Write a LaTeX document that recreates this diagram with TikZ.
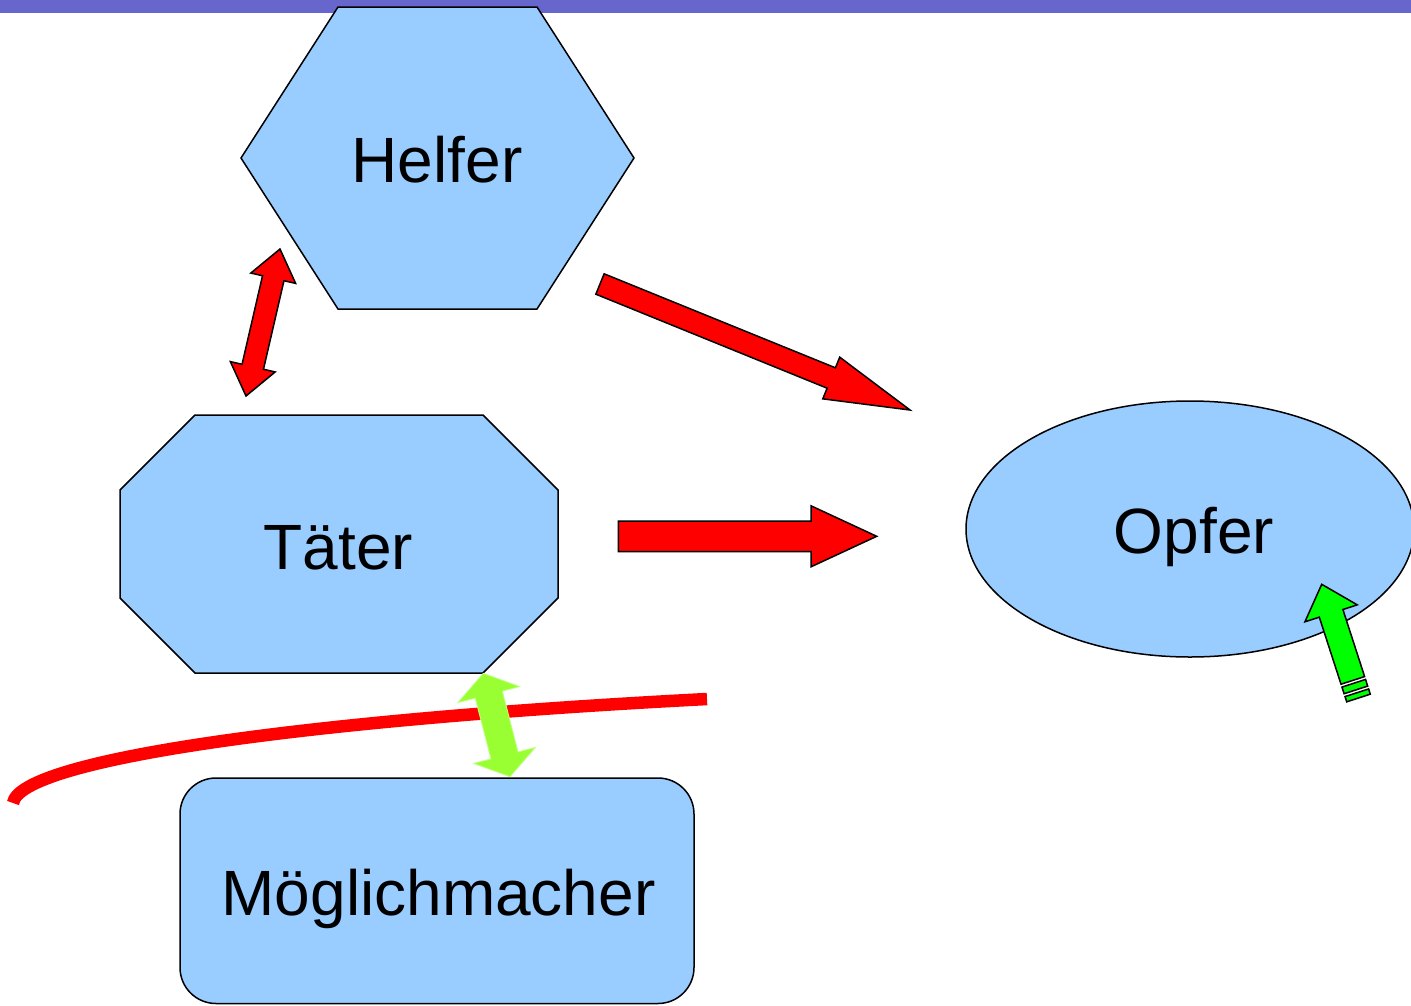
\documentclass[tikz,border=0pt]{standalone}
\usepackage{fontspec}
\setmainfont{Liberation Sans}
\usetikzlibrary{calc,shapes.geometric}
\definecolor{barblue}{RGB}{102,102,204}
\definecolor{shapeblue}{RGB}{153,204,255}
\definecolor{arrred}{RGB}{255,0,0}
\definecolor{lightgreen}{RGB}{153,255,51}
\definecolor{brightgreen}{RGB}{0,255,0}
\tikzset{
  shapebox/.style={draw=black, fill=shapeblue, line width=1.5pt, line join=miter},
  redarrow/.style={draw=black, fill=arrred, line width=1.5pt, line join=miter},
  greenarrow/.style={draw=black, fill=brightgreen, line width=1.5pt, line join=miter},
  softarrow/.style={fill=lightgreen, draw=lightgreen!60!white, line width=0.8pt},
  lbl/.style={font=\fontsize{64}{77}\selectfont, inner sep=0pt, text=black},
}
% style, tail, tip, half shaft, half head, head length
\newcommand\BlockArrow[6]{%
  \coordinate (ba-h) at ($(#3)!#6!(#2)$);
  \path[#1] ($(#2)!#4!90:(#3)$) -- ($(ba-h)!#4!90:(#3)$) -- ($(ba-h)!#5!90:(#3)$) -- (#3)
    -- ($(ba-h)!#5!-90:(#3)$) -- ($(ba-h)!#4!-90:(#3)$) -- ($(#2)!#4!-90:(#3)$) -- cycle;}
% style, end A, end B, half shaft, half head, head length
\newcommand\DblBlockArrow[6]{%
  \coordinate (da-a) at ($(#2)!#6!(#3)$);
  \coordinate (da-b) at ($(#3)!#6!(#2)$);
  \path[#1] (#2) -- ($(da-a)!#5!90:(#3)$) -- ($(da-a)!#4!90:(#3)$) -- ($(da-b)!#4!90:(#3)$)
    -- ($(da-b)!#5!90:(#3)$) -- (#3) -- ($(da-b)!#5!-90:(#3)$) -- ($(da-b)!#4!-90:(#3)$)
    -- ($(da-a)!#4!-90:(#3)$) -- ($(da-a)!#5!-90:(#3)$) -- cycle;}
% style, reference start, reference direction point, dist1, dist2, half width
\newcommand\StripeBar[6]{%
  \coordinate (sb-a) at ($(#2)!#4!(#3)$);
  \coordinate (sb-b) at ($(#2)!#5!(#3)$);
  \path[#1] ($(sb-a)!#6!90:(#3)$) -- ($(sb-b)!#6!90:(#3)$) -- ($(sb-b)!#6!-90:(#3)$) -- ($(sb-a)!#6!-90:(#3)$) -- cycle;}
\begin{document}
\begin{tikzpicture}[x=1pt,y=-1pt]
\useasboundingbox (0,0) rectangle (1411,1005);
\fill[white] (0,0) rectangle (1411,1005);
% top bar
\fill[barblue] (0,0) rectangle (1411,13.3);

% shapes
\draw[shapebox] (338,7) -- (537,7) -- (634,158) -- (537,309) -- (338,309) -- (241,158) -- cycle;
\draw[shapebox] (195,415) -- (483,415) -- (558,490) -- (558,598) -- (483,673) -- (195,673) -- (120,598) -- (120,490) -- cycle;
\node[shapebox, ellipse, minimum width=448pt, minimum height=256pt, inner sep=0pt] (opferbox) at (1190,529) {};
\draw[shapebox, rounded corners=36pt] (180,778) rectangle (694,1003.5);

% labels
\node[lbl, anchor=base] (helfer) at (437,182.3) {Helfer};
\node[lbl, anchor=base] (taeter) at (338.5,569.5) {Täter};
\node[lbl, anchor=base] (opfer) at (1194,553) {Opfer};
\node[lbl, anchor=base, font=\fontsize{64}{77}\selectfont] (moeglich) at (438.5,915) {Möglichmacher};

% arrow end points
\coordinate (h-tail) at (600,284);
\coordinate (h-tip) at (910,410);
\coordinate (t-tail) at (618.3,536.3);
\coordinate (t-tip) at (876.7,536.3);
\coordinate (ht-a) at (280,249);
\coordinate (ht-b) at (246,396);
\coordinate (tm-a) at (483.3,673.3);
\coordinate (tm-b) at (510,776.7);
\coordinate (g-tail) at (1359,699.5);
\coordinate (g-tip) at (1321.7,584.3);
\coordinate (g-end) at ($(g-tip)!101pt!(g-tail)$);

% red arrows
\BlockArrow{redarrow}{h-tail}{h-tip}{11pt}{22.5pt}{85pt}
\BlockArrow{redarrow}{t-tail}{t-tip}{15.3pt}{30.5pt}{65.7pt}
\DblBlockArrow{redarrow}{ht-a}{ht-b}{11pt}{23pt}{30pt}

% red curve
\draw[arrred, line width=12.5pt] (13,803) .. controls (20,760) and (300,720) .. (707,699);

% light green double arrow
\DblBlockArrow{softarrow}{tm-a}{tm-b}{14pt}{32pt}{22pt}

% green striped arrow
\BlockArrow{greenarrow}{g-end}{g-tip}{12.4pt}{27.5pt}{30.5pt}
\StripeBar{greenarrow}{g-tip}{g-tail}{104pt}{111pt}{12.4pt}
\StripeBar{greenarrow}{g-tip}{g-tail}{114pt}{119.5pt}{12.4pt}
\end{tikzpicture}
\end{document}
